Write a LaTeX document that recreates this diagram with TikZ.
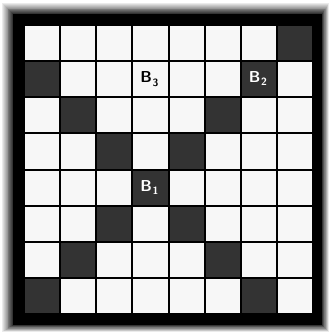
\documentclass[tikz,border=0pt]{standalone}
\usetikzlibrary{calc}
\definecolor{cellLight}{HTML}{F7F7F7}
\definecolor{cellDark}{HTML}{333333}
\newcommand{\csz}{36.125}
\newcommand{\bsub}[1]{B\kern0.5pt\raisebox{-0.45ex}{\fontsize{9}{10}\selectfont #1}}

\begin{document}
\begin{tikzpicture}[x=0.03cm, y=-0.03cm,
    lightcell/.style={fill=cellLight}, darkcell/.style={fill=cellDark},
    blabel/.style={font=\fontsize{13.5}{15}\selectfont\sffamily\bfseries, inner sep=0pt}]
    \useasboundingbox (0,0) rectangle (329,332);
    \fill[white] (0,0) rectangle (329,332);
    % soft shadow round the frame
    \foreach \k [evaluate=\k as \t using (12-\k)/12, evaluate=\k as \g using 8+6.5*\k] in {0,...,12}
        \fill[black!\g] (13-11*\t, 14-11*\t) rectangle (322+7*\t, 325+7*\t);
    \fill[black] (13,14) rectangle (322,325);
    \coordinate (G) at (24,25);

    \foreach \r in {0,...,7} \foreach \c in {0,...,7}
        \fill[lightcell] ($(G)+(\c*\csz+1,\r*\csz+1)$) rectangle ++(\csz-2,\csz-2);
    \foreach \r/\c in {0/7,1/0,1/6,2/1,2/5,3/2,3/4,4/3,5/2,5/4,6/1,6/5,7/0,7/6}
        \fill[darkcell] ($(G)+(\c*\csz+1,\r*\csz+1)$) rectangle ++(\csz-2,\csz-2);

    \node[blabel, text=white] (b1) at ($(G)+(3.5*\csz-1,4.5*\csz)$) {\bsub{1}};
    \node[blabel, text=white] (b2) at ($(G)+(6.5*\csz-1,1.5*\csz-1)$) {\bsub{2}};
    \node[blabel, text=black] (b3) at ($(G)+(3.5*\csz-1,1.5*\csz)$) {\bsub{3}};
\end{tikzpicture}
\end{document}
